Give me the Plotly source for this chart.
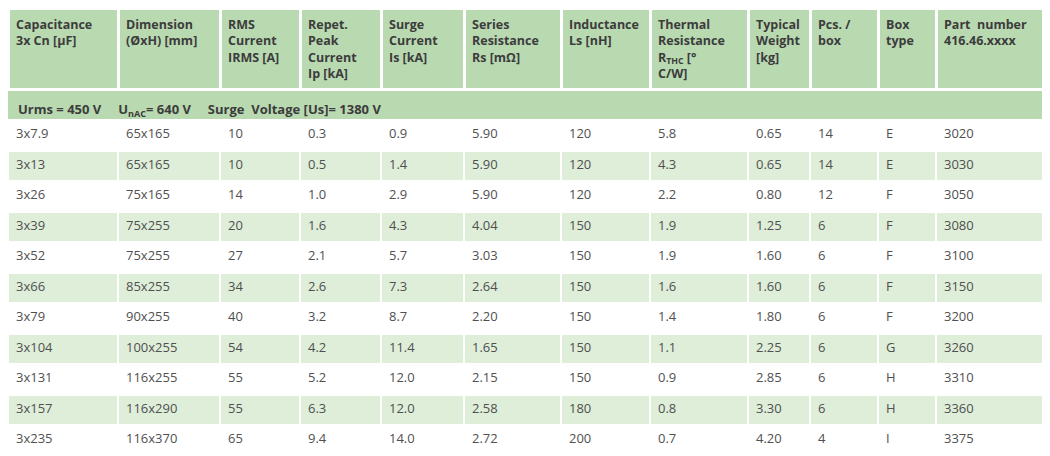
import plotly.graph_objects as go

headers = ["Capacitance<br>3x Cn [µF]", "Dimension<br>(ØxH) [mm]", "RMS<br>Current<br>IRMS [A]",
           "Repet.<br>Peak<br>Current<br>Ip [kA]", "Surge<br>Current<br>Is [kA]",
           "Series<br>Resistance<br>Rs [mΩ]", "Inductance<br>Ls [nH]",
           "Thermal<br>Resistance<br>R<sub>THC</sub> [°<br>C/W]", "Typical<br>Weight<br>[kg]",
           "Pcs. /<br>box", "Box<br>type", "Part  number<br>416.46.xxxx"]

capacitance = ["3x7.9", "3x13", "3x26", "3x39", "3x52", "3x66", "3x79", "3x104", "3x131", "3x157", "3x235"]
dimension = ["65x165", "65x165", "75x165", "75x255", "75x255", "85x255", "90x255", "100x255", "116x255", "116x290", "116x370"]
irms = ["10", "10", "14", "20", "27", "34", "40", "54", "55", "55", "65"]
peak_current = ["0.3", "0.5", "1.0", "1.6", "2.1", "2.6", "3.2", "4.2", "5.2", "6.3", "9.4"]
surge_current = ["0.9", "1.4", "2.9", "4.3", "5.7", "7.3", "8.7", "11.4", "12.0", "12.0", "14.0"]
series_res = ["5.90", "5.90", "5.90", "4.04", "3.03", "2.64", "2.20", "1.65", "2.15", "2.58", "2.72"]
inductance = ["120", "120", "120", "150", "150", "150", "150", "150", "150", "180", "200"]
thermal_res = ["5.8", "4.3", "2.2", "1.9", "1.9", "1.6", "1.4", "1.1", "0.9", "0.8", "0.7"]
weight = ["0.65", "0.65", "0.80", "1.25", "1.60", "1.60", "1.80", "2.25", "2.85", "3.30", "4.20"]
pcs_box = ["14", "14", "12", "6", "6", "6", "6", "6", "6", "6", "4"]
box_type = ["E", "E", "F", "F", "F", "F", "F", "G", "H", "H", "I"]
part_number = ["3020", "3030", "3050", "3080", "3100", "3150", "3200", "3260", "3310", "3360", "3375"]

subheader = "Urms = 450 V     U<sub>nAC</sub>= 640 V     Surge  Voltage [Us]= 1380 V"

col_widths = [110, 102, 80, 81, 83, 97, 89, 98, 62, 68, 58, 122]

HEAD = "#b9d9b1"
ALT = "#deeed9"
FONT = "Open Sans"
columns = [capacitance, dimension, irms, peak_current, surge_current, series_res,
           inductance, thermal_res, weight, pcs_box, box_type, part_number]
n = len(capacitance)
values = [[""] + c for c in columns]
row_fill = [HEAD] + [ALT if i % 2 == 1 else "white" for i in range(n)]
row_line = [HEAD] + ["white"] * n

fig = go.Figure(go.Table(
    columnwidth=col_widths,
    header=dict(values=["<b>%s</b>" % h for h in headers], fill_color=HEAD,
                line=dict(color="white", width=3), align="left", height=80,
                font=dict(family=FONT, size=12.5, color="#3c3c3c")),
    cells=dict(values=values, fill_color=[row_fill] * len(columns),
               line=dict(color=[row_line] * len(columns), width=2),
               align="left", height=30.5,
               font=dict(family=FONT, size=13, color="#505050")),
    domain=dict(x=[0, 1], y=[0, 1]),
))

fig.add_annotation(text="<b>%s</b>" % subheader, x=8, y=456 - 102, xref="x", yref="y",
                   showarrow=False, xanchor="left", yanchor="middle",
                   font=dict(family=FONT, size=13, color="#3c3c3c"))
fig.update_xaxes(range=[0, 1050], visible=False)
fig.update_yaxes(range=[0, 456], visible=False)
fig.update_layout(width=1050, height=456, margin=dict(l=0, r=0, t=0, b=0),
                  paper_bgcolor="white", plot_bgcolor="rgba(0,0,0,0)")
fig.write_html("out.html")
